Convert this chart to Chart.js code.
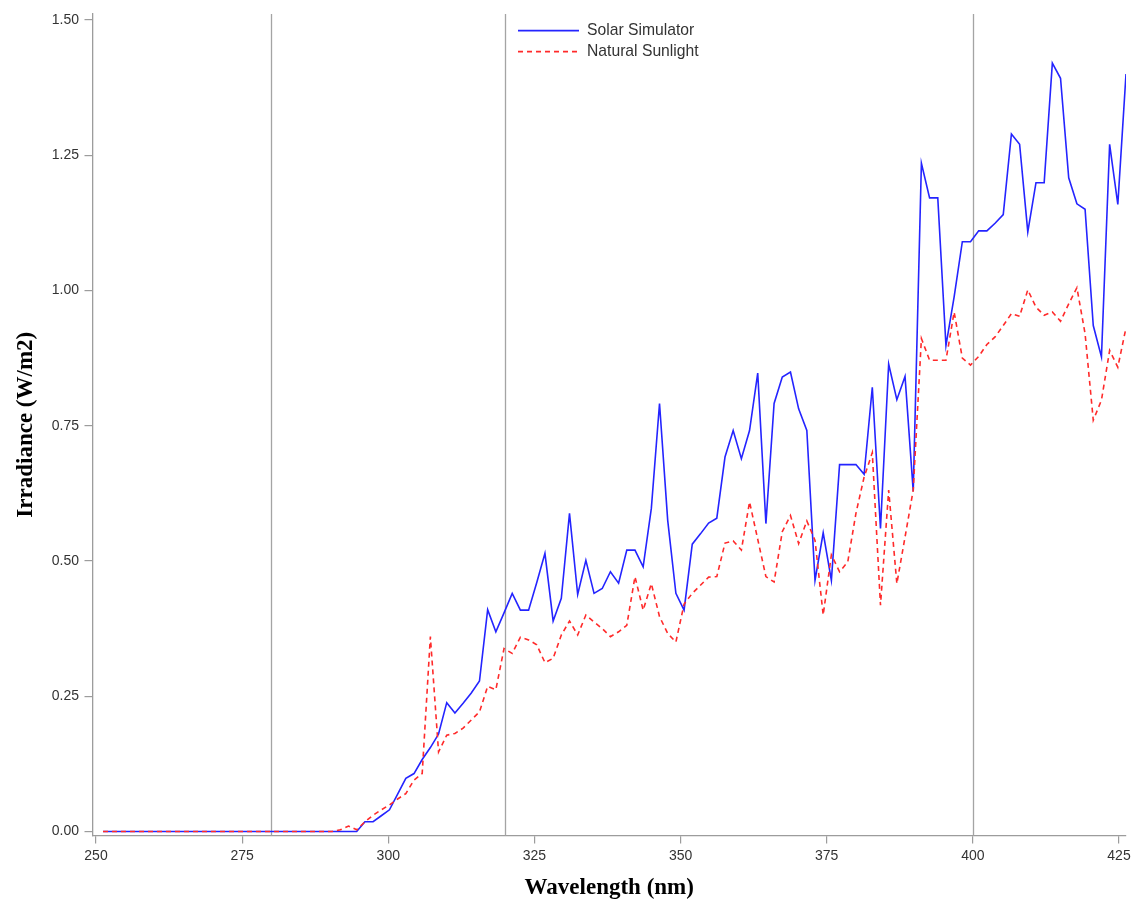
<!DOCTYPE html>
<html>
<head>
<meta charset="utf-8">
<script src="https://cdn.jsdelivr.net/npm/chart.js@4.4.1/dist/chart.umd.min.js"></script>
<style>
  html, body { margin: 0; padding: 0; background: #ffffff; }
  canvas { display: block; }
</style>
</head>
<body>
<canvas id="spectrum" width="1137" height="907"></canvas>
<script>
// Wavelength samples (nm), 1.4 nm spacing
const wavelengths = [
  251.2, 252.6, 254.0, 255.4, 256.8, 258.2, 259.6, 261.0, 262.4, 263.8,
  265.2, 266.6, 268.0, 269.4, 270.8, 272.2, 273.6, 275.0, 276.4, 277.8,
  279.2, 280.6, 282.0, 283.4, 284.8, 286.2, 287.6, 289.0, 290.4, 291.8,
  293.2, 294.6, 296.0, 297.4, 298.8, 300.2, 301.6, 303.0, 304.4, 305.8,
  307.2, 308.6, 310.0, 311.4, 312.8, 314.2, 315.6, 317.0, 318.4, 319.8,
  321.2, 322.6, 324.0, 325.4, 326.8, 328.2, 329.6, 331.0, 332.4, 333.8,
  335.2, 336.6, 338.0, 339.4, 340.8, 342.2, 343.6, 345.0, 346.4, 347.8,
  349.2, 350.6, 352.0, 353.4, 354.8, 356.2, 357.6, 359.0, 360.4, 361.8,
  363.2, 364.6, 366.0, 367.4, 368.8, 370.2, 371.6, 373.0, 374.4, 375.8,
  377.2, 378.6, 380.0, 381.4, 382.8, 384.2, 385.6, 387.0, 388.4, 389.8,
  391.2, 392.6, 394.0, 395.4, 396.8, 398.2, 399.6, 401.0, 402.4, 403.8,
  405.2, 406.6, 408.0, 409.4, 410.8, 412.2, 413.6, 415.0, 416.4, 417.8,
  419.2, 420.6, 422.0, 423.4, 424.8, 426.2
];

// Irradiance (W/m2) of the solar simulator
const solarSimulator = [
  0, 0, 0, 0, 0, 0, 0, 0, 0, 0,
  0, 0, 0, 0, 0, 0, 0, 0, 0, 0,
  0, 0, 0, 0, 0, 0, 0, 0, 0, 0,
  0, 0, 0.018, 0.018, 0.029, 0.040, 0.069, 0.098, 0.107, 0.133,
  0.155, 0.180, 0.238, 0.219, 0.237, 0.256, 0.278, 0.410, 0.369, 0.404,
  0.440, 0.409, 0.409, 0.460, 0.514, 0.389, 0.431, 0.588, 0.438, 0.501,
  0.440, 0.449, 0.480, 0.459, 0.520, 0.520, 0.489, 0.597, 0.791, 0.575,
  0.440, 0.409, 0.531, 0.550, 0.570, 0.579, 0.692, 0.741, 0.689, 0.741,
  0.847, 0.569, 0.791, 0.840, 0.849, 0.781, 0.741, 0.464, 0.552, 0.464,
  0.678, 0.678, 0.678, 0.660, 0.821, 0.560, 0.864, 0.798, 0.841, 0.629,
  1.235, 1.171, 1.171, 0.898, 0.988, 1.090, 1.090, 1.110, 1.110, 1.124,
  1.140, 1.289, 1.270, 1.108, 1.199, 1.199, 1.420, 1.392, 1.208, 1.160,
  1.150, 0.935, 0.877, 1.270, 1.159, 1.400
];

// Irradiance (W/m2) of natural sunlight
const naturalSunlight = [
  0, 0, 0, 0, 0, 0, 0, 0, 0, 0,
  0, 0, 0, 0, 0, 0, 0, 0, 0, 0,
  0, 0, 0, 0, 0, 0, 0, 0, 0, 0.003,
  0.010, 0.003, 0.018, 0.030, 0.040, 0.049, 0.060, 0.070, 0.095, 0.107,
  0.360, 0.147, 0.178, 0.181, 0.191, 0.206, 0.221, 0.268, 0.262, 0.338,
  0.329, 0.359, 0.354, 0.345, 0.312, 0.320, 0.363, 0.389, 0.363, 0.400,
  0.387, 0.375, 0.360, 0.369, 0.381, 0.471, 0.409, 0.458, 0.397, 0.366,
  0.350, 0.420, 0.440, 0.455, 0.470, 0.471, 0.533, 0.537, 0.520, 0.609,
  0.540, 0.471, 0.461, 0.554, 0.584, 0.532, 0.574, 0.538, 0.400, 0.511,
  0.480, 0.498, 0.588, 0.655, 0.700, 0.418, 0.631, 0.458, 0.544, 0.631,
  0.911, 0.871, 0.871, 0.871, 0.960, 0.875, 0.862, 0.878, 0.900, 0.914,
  0.935, 0.957, 0.952, 1.001, 0.969, 0.954, 0.960, 0.943, 0.975, 1.005,
  0.920, 0.760, 0.797, 0.889, 0.858, 0.931
];

const xTicks = [250, 275, 300, 325, 350, 375, 400, 425];
const yTicks = [0, 0.25, 0.5, 0.75, 1.0, 1.25, 1.5];
// Vertical marker lines (nm)
const markerLines = [280, 320, 400];

const seriesNames = ['Solar Simulator', 'Natural Sunlight'];

const toPoints = values => values.map((v, i) => ({ x: wavelengths[i], y: v }));

const axisGray = '#9c9c9c';
const tickFont = { family: "'Liberation Sans', Arial, sans-serif", size: 14 };
const titleFont = { family: "'Liberation Serif', 'Times New Roman', serif", size: 23, weight: 'bold' };

// Gray vertical lines behind the data
const markerPlugin = {
  id: 'markerLines',
  beforeDatasetsDraw(chart) {
    const { ctx, chartArea } = chart;
    const xs = chart.scales.x;
    ctx.save();
    ctx.strokeStyle = '#a4a4a4';
    ctx.lineWidth = 1.3;
    markerLines.forEach(v => {
      const px = Math.round(xs.getPixelForValue(v)) + 0.5;
      ctx.beginPath();
      ctx.moveTo(px, chartArea.top);
      ctx.lineTo(px, chartArea.bottom);
      ctx.stroke();
    });
    ctx.restore();
  }
};

// Legend drawn inside the plot, next to the 320 nm line
const insetLegend = {
  id: 'insetLegend',
  afterDatasetsDraw(chart) {
    const { ctx, chartArea } = chart;
    const x0 = chartArea.left + 425.5;
    const lineLen = 61;
    let y = chartArea.top + 16.7;
    ctx.save();
    chart.data.datasets.forEach(ds => {
      ctx.strokeStyle = ds.borderColor;
      ctx.lineWidth = ds.borderWidth;
      ctx.setLineDash(ds.borderDash || []);
      ctx.beginPath();
      ctx.moveTo(x0, y);
      ctx.lineTo(x0 + lineLen, y);
      ctx.stroke();
      ctx.setLineDash([]);
      ctx.fillStyle = '#333333';
      ctx.font = "15.7px 'Liberation Sans', Arial, sans-serif";
      ctx.textBaseline = 'middle';
      ctx.textAlign = 'left';
      ctx.fillText(ds.label, x0 + 69, y + 0.5);
      y += 21;
    });
    ctx.restore();
  }
};

new Chart(document.getElementById('spectrum'), {
  type: 'line',
  data: {
    datasets: [
      {
        label: seriesNames[0],
        data: toPoints(solarSimulator),
        borderColor: '#2424ff',
        borderWidth: 1.6,
        pointRadius: 0,
        tension: 0,
        fill: false,
        order: 2
      },
      {
        label: seriesNames[1],
        data: toPoints(naturalSunlight),
        borderColor: '#ff2a2a',
        borderWidth: 1.6,
        borderDash: [5, 4],
        pointRadius: 0,
        tension: 0,
        fill: false,
        order: 1
      }
    ]
  },
  options: {
    responsive: false,
    animation: false,
    devicePixelRatio: 1,
    layout: { padding: { left: 0, top: 13, right: 11, bottom: 0 } },
    plugins: {
      legend: { display: false },
      tooltip: { enabled: false }
    },
    scales: {
      x: {
        type: 'linear',
        min: 249.4,
        max: 426.2,
        afterBuildTicks: s => { s.ticks = xTicks.map(v => ({ value: v })); },
        afterFit: s => { s.height = 71.5; },
        ticks: {
          font: tickFont,
          color: '#333333',
          padding: 4,
          maxRotation: 0,
          autoSkip: false,
          callback: v => String(v)
        },
        grid: { drawOnChartArea: false, drawTicks: true, tickLength: 8, color: axisGray, lineWidth: 1.2 },
        border: { color: axisGray, width: 1.3 },
        title: {
          display: true,
          text: 'Wavelength (nm)',
          font: titleFont,
          color: '#000000',
          padding: { top: 0, bottom: 5 }
        }
      },
      y: {
        type: 'linear',
        min: -0.0075,
        max: 1.511,
        afterBuildTicks: s => { s.ticks = yTicks.map(v => ({ value: v })); },
        afterFit: s => { s.width = 92.5; },
        ticks: {
          font: tickFont,
          color: '#333333',
          padding: 5.5,
          callback: v => Number(v).toFixed(2)
        },
        grid: { drawOnChartArea: false, drawTicks: true, tickLength: 8, color: axisGray, lineWidth: 1.2 },
        border: { color: axisGray, width: 1.3 },
        title: {
          display: true,
          text: 'Irradiance (W/m2)',
          font: titleFont,
          color: '#000000',
          padding: { top: 12, bottom: 0 }
        }
      }
    }
  },
  plugins: [markerPlugin, insetLegend]
});
</script>
</body>
</html>
